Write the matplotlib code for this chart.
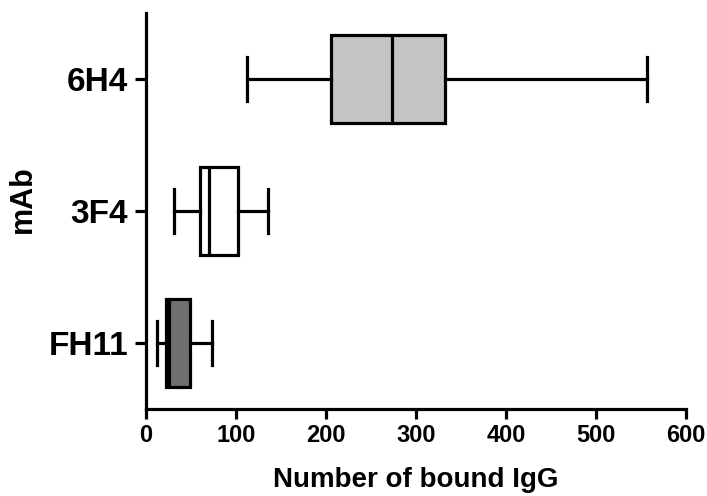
import matplotlib.pyplot as plt

# summary values (number of bound IgG)
labels = ["FH11", "3F4", "6H4"]
whislo = [12, 31, 112]
q1 = [22, 60, 206]
med = [26, 70, 273]
q3 = [49, 102, 332]
whishi = [73, 136, 557]
fills = ["#707070", "#ffffff", "#c4c4c4"]

plt.rcParams["font.family"] = ["Liberation Sans", "DejaVu Sans"]
plt.rcParams["font.weight"] = "bold"

fig = plt.figure(figsize=(7.07, 4.96), dpi=100)
ax = fig.add_axes([0.2065, 0.1754, 0.7635, 0.7984])

stats = []
for i in range(len(labels)):
    stats.append({"label": labels[i], "whislo": whislo[i], "q1": q1[i],
                  "med": med[i], "q3": q3[i], "whishi": whishi[i]})

lw = 2.3
bp = ax.bxp(stats, positions=range(len(labels)), widths=0.667,
            orientation="horizontal", patch_artist=True, showfliers=False,
            boxprops=dict(linewidth=lw, edgecolor="black"),
            whiskerprops=dict(linewidth=lw, color="black"),
            capprops=dict(linewidth=lw, color="black"),
            medianprops=dict(linewidth=lw, color="black"))
for patch, c in zip(bp["boxes"], fills):
    patch.set_facecolor(c)

ax.set_xlim(0, 600)
ax.set_ylim(-0.5, 2.5)
ax.set_xticks([0, 100, 200, 300, 400, 500, 600])
ax.set_yticks(range(len(labels)))
ax.set_yticklabels(labels, fontsize=24, fontweight="bold")
ax.tick_params(axis="x", labelsize=17, width=lw, length=7, pad=4)
ax.tick_params(axis="y", width=lw, length=8, pad=5)
for t in ax.get_xticklabels():
    t.set_fontweight("bold")

ax.spines["top"].set_visible(False)
ax.spines["right"].set_visible(False)
ax.spines["left"].set_linewidth(lw)
ax.spines["bottom"].set_linewidth(lw)

ax.set_xlabel("Number of bound IgG", fontsize=20, fontweight="bold", labelpad=14)
ax.set_ylabel("mAb", fontsize=22, fontweight="bold")
ax.yaxis.set_label_coords(-0.20, 0.53)

plt.savefig("out.png", dpi=100)
